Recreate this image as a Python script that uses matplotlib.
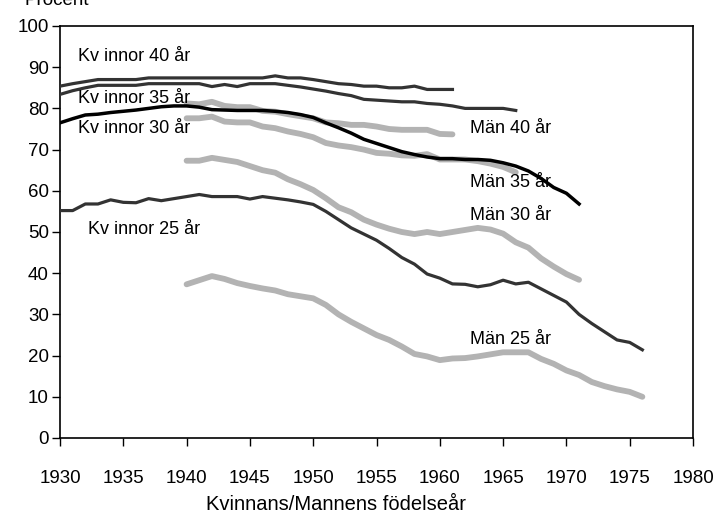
import matplotlib
matplotlib.use("Agg")
import matplotlib.pyplot as plt
import numpy as np

plt.rcParams['font.family'] = ['Liberation Sans', 'DejaVu Sans']

years_kv40 = list(range(1930, 1962))
kv40 = [85.4, 86.0, 86.5, 87.0, 87.0, 87.0, 87.0, 87.4, 87.4, 87.4, 87.4, 87.4,
        87.4, 87.4, 87.4, 87.4, 87.4, 87.9, 87.4, 87.4, 87.0, 86.5, 86.0, 85.8,
        85.4, 85.4, 85.0, 85.0, 85.4, 84.6, 84.6, 84.6]

years_kv35 = list(range(1930, 1967))
kv35 = [83.4, 84.3, 85.0, 85.6, 85.6, 85.6, 85.6, 86.0, 86.0, 86.0, 86.0, 86.0,
        85.3, 85.8, 85.3, 86.0, 86.0, 86.0, 85.6, 85.2, 84.7, 84.2, 83.6, 83.1,
        82.2, 82.0, 81.8, 81.6, 81.6, 81.2, 81.0, 80.6, 80.0, 80.0, 80.0, 80.0, 79.5]

years_kv30 = list(range(1930, 1972))
kv30 = [76.5, 77.5, 78.4, 78.6, 79.0, 79.3, 79.6, 80.0, 80.4, 80.6, 80.6, 80.3,
        79.7, 79.6, 79.5, 79.5, 79.5, 79.3, 79.0, 78.5, 77.8, 76.5, 75.3, 74.0,
        72.5, 71.5, 70.5, 69.5, 68.8, 68.2, 67.8, 67.8, 67.6, 67.6, 67.4, 66.8,
        66.0, 64.8, 63.0, 60.8, 59.4, 56.8]

years_kv25 = list(range(1930, 1977))
kv25 = [55.2, 55.2, 56.8, 56.8, 57.8, 57.2, 57.1, 58.1, 57.6, 58.1, 58.6, 59.1,
        58.6, 58.6, 58.6, 58.0, 58.6, 58.2, 57.8, 57.3, 56.7, 55.0, 53.0, 51.0,
        49.5, 48.0, 46.0, 43.8, 42.2, 39.8, 38.8, 37.4, 37.3, 36.7, 37.2, 38.3,
        37.4, 37.8, 36.2, 34.6, 33.0, 30.0, 27.8, 25.8, 23.8, 23.2, 21.4]

years_m40 = list(range(1940, 1962))
man40 = [81.2, 81.0, 81.6, 80.6, 80.3, 80.3, 79.4, 79.2, 78.6, 78.1, 77.6, 76.6,
         76.4, 76.0, 76.0, 75.6, 75.0, 74.8, 74.8, 74.8, 73.8, 73.7]

years_m35 = list(range(1940, 1967))
man35 = [77.6, 77.6, 78.0, 76.8, 76.6, 76.6, 75.6, 75.2, 74.4, 73.8, 73.0, 71.6,
         71.0, 70.6, 70.0, 69.2, 69.0, 68.6, 68.5, 68.9, 67.6, 67.6, 67.6, 67.2,
         66.6, 65.8, 64.5]

years_m30 = list(range(1940, 1972))
man30 = [67.3, 67.3, 68.0, 67.5, 67.0, 66.0, 65.0, 64.4, 62.8, 61.6, 60.2, 58.2,
         56.0, 54.8, 53.0, 51.8, 50.8, 50.0, 49.5, 50.0, 49.5, 50.0, 50.5, 51.0,
         50.6, 49.6, 47.5, 46.2, 43.6, 41.6, 39.8, 38.4]

years_m25 = list(range(1940, 1977))
man25 = [37.3, 38.3, 39.3, 38.6, 37.6, 36.9, 36.3, 35.8, 34.9, 34.4, 33.9, 32.3,
         30.0, 28.2, 26.6, 25.0, 23.8, 22.2, 20.4, 19.8, 18.9, 19.3, 19.4, 19.8,
         20.3, 20.8, 20.8, 20.8, 19.2, 18.0, 16.4, 15.3, 13.6, 12.6, 11.8, 11.2, 10.0]

labels = ["Kv innor 40 år", "Kv innor 35 år", "Kv innor 30 år", "Kv innor 25 år",
          "Män 40 år", "Män 35 år", "Män 30 år", "Män 25 år"]
label_x = [1931.4, 1931.4, 1931.4, 1932.2, 1962.4, 1962.4, 1962.4, 1962.4]
label_y = [92.7, 82.3, 75.2, 50.7, 75.2, 61.9, 53.9, 23.8]

xticks = [1930, 1935, 1940, 1945, 1950, 1955, 1960, 1965, 1970, 1975, 1980]
yticks = [0, 10, 20, 30, 40, 50, 60, 70, 80, 90, 100]

W, H = 716, 520
fig = plt.figure(figsize=(W / 100, H / 100), dpi=100)
ax = fig.add_axes([60 / W, (H - 438) / H, 633 / W, 412 / H])

grey = '#b3b3b3'
dark = '#333333'
ax.plot(years_m40, man40, color=grey, lw=4.2, solid_capstyle='round', zorder=2)
ax.plot(years_m35, man35, color=grey, lw=4.2, solid_capstyle='round', zorder=2)
ax.plot(years_m30, man30, color=grey, lw=4.2, solid_capstyle='round', zorder=2)
ax.plot(years_m25, man25, color=grey, lw=4.2, solid_capstyle='round', zorder=2)
ax.plot(years_kv40, kv40, color=dark, lw=2.3, zorder=3)
ax.plot(years_kv35, kv35, color=dark, lw=2.3, zorder=3)
ax.plot(years_kv30, kv30, color='black', lw=2.5, zorder=3)
ax.plot(years_kv25, kv25, color=dark, lw=2.3, zorder=3)

for t, x, y in zip(labels, label_x, label_y):
    ax.text(x, y, t, fontsize=13, va='center', ha='left', color='black', zorder=4)

ax.set_xlim(1930, 1980)
ax.set_ylim(0, 100)
ax.set_xticks(xticks)
ax.set_yticks(yticks)
ax.tick_params(axis='both', direction='out', length=6, width=1, labelsize=13.5, colors='black')
ax.tick_params(axis='x', pad=17)
ax.tick_params(axis='y', pad=2)
for s in ax.spines.values():
    s.set_linewidth(1.2)
    s.set_color('black')

fig.text(336 / W, 1 - 505 / H, "Kvinnans/Mannens födelseår", fontsize=14.5,
         ha='center', va='center')
fig.text(25 / W, 1 - 5 / H, "Procent", fontsize=13.5, ha='left', va='baseline')

fig.savefig("out.png", dpi=100)
